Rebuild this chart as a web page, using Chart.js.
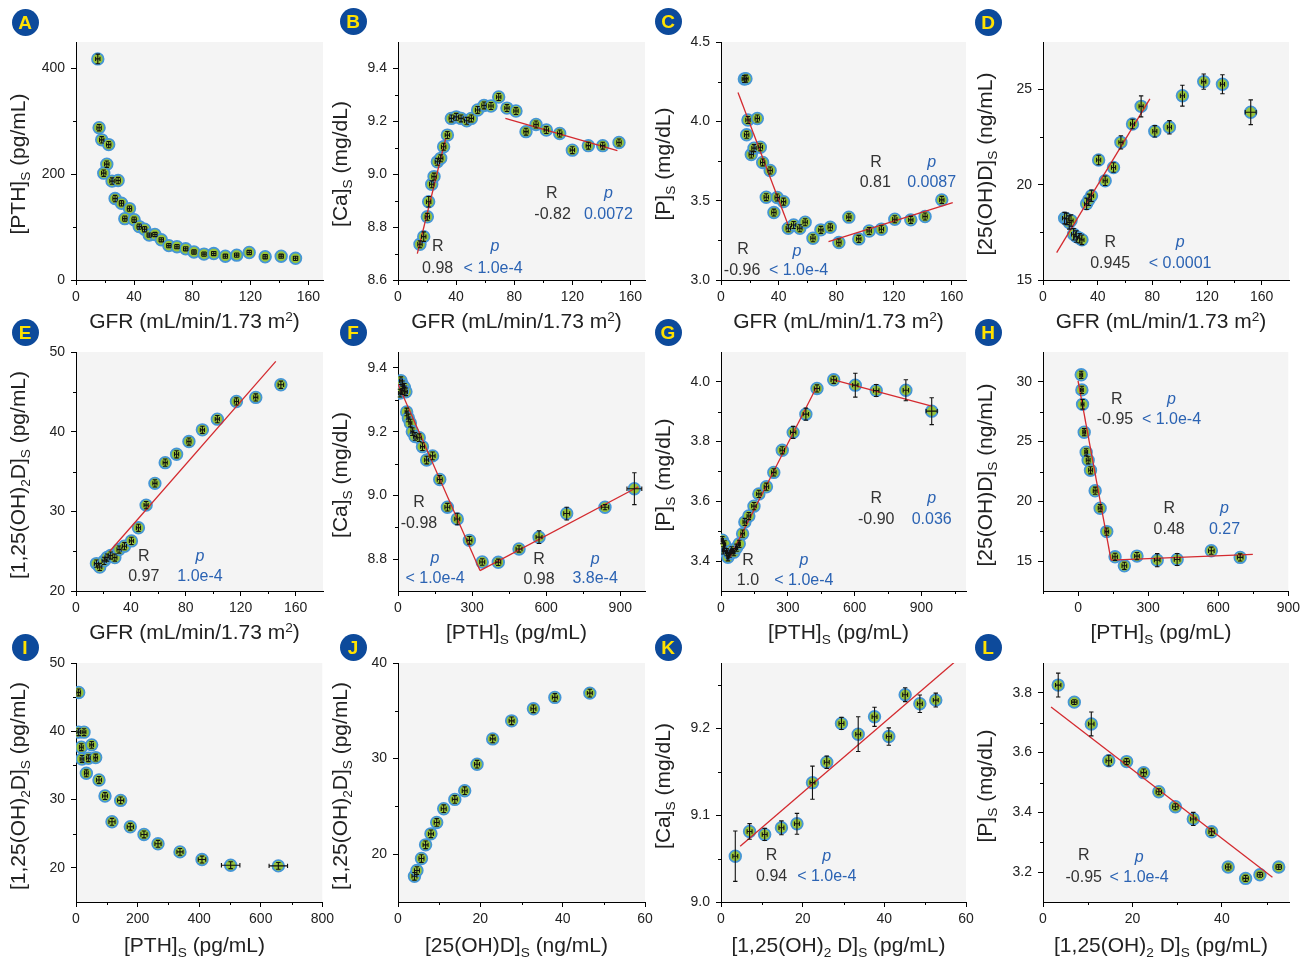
<!DOCTYPE html>
<html><head><meta charset="utf-8">
<script src="https://cdn.jsdelivr.net/npm/chart.js@4.4.1/dist/chart.umd.min.js"></script>
<style>
html,body{margin:0;padding:0;background:#fff;}
#wrap{position:relative;width:1310px;height:962px;overflow:hidden;font-family:"Liberation Sans",Arial,sans-serif;color:#222;}
canvas{position:absolute;}
.badge{position:absolute;width:27px;height:27px;border-radius:50%;background:#0d4a9b;color:#ffe100;font-weight:bold;font-size:19px;line-height:27px;text-align:center;}
.xt,.yt{position:absolute;font-size:21px;line-height:24px;height:24px;text-align:center;white-space:nowrap;color:#222;}
.yt{transform:rotate(-90deg);}
sub,sup{font-size:0.65em;line-height:0;position:relative;vertical-align:baseline;}
sub{top:0.35em;} sup{top:-0.55em;}
</style></head><body><div id="wrap"></div>
<script>
// ---------- tick labels ----------
const ticksGFR=[0,40,80,120,160], minorGFR=[20,60,100,140];
const ticksPTHa=[0,300,600,900], minorPTHa=[150,450,750], minorPTHg=[150,450,750,1050], minorPTHh=[-150,150,450,750];
const ticksPTHi=[0,200,400,600,800], minorPTHi=[100,300,500,700];
const ticks60=[0,20,40,60], minor60=[10,30,50], ticks55=[0,20,40], minor55=[10,30,50];
const yTicksA=[0,200,400], yMinorA=[100,300];
const yTicksB=[8.6,8.8,9.0,9.2,9.4], yMinorB=[8.7,8.9,9.1,9.3];
const yTicksC=[3.0,3.5,4.0,4.5], yMinorC=[3.25,3.75,4.25];
const yTicksD=[15,20,25], yMinorD=[17.5,22.5];
const yTicksE=[20,30,40,50], yMinorE=[25,35,45];
const yTicksF=[8.8,9.0,9.2,9.4], yMinorF=[8.9,9.1,9.3];
const yTicksG=[3.4,3.6,3.8,4.0], yMinorG=[3.5,3.7,3.9];
const yTicksH=[15,20,25,30], yMinorH=[17.5,22.5,27.5];
const yTicksI=[20,30,40,50], yMinorI=[25,35,45];
const yTicksJ=[20,30,40], yMinorJ=[25,35];
const yTicksK=[9.0,9.1,9.2], yMinorK=[9.05,9.15,9.25];
const yTicksL=[3.2,3.4,3.6,3.8], yMinorL=[3.3,3.5,3.7];

// ---------- series ----------
const gfrA=[15.0,15.9,17.7,22.5,21.2,19.1,24.8,29.0,26.9,31.3,36.8,33.6,40.0,43.5,47.2,50.4,54.3,58.7,63.9,69.5,75.5,81.2,88.1,94.8,102.8,110.6,119.2,130.2,141.2,151.1];
const pthA=[418,288,265,256,219,202,187,188,154,145,135,116,114,101,96,85,86,76,65,63,59,53,49,50,45,47,52,44,45,41];
const gfrAErr=[1.5,1.5,1.5,1.5,1.5,1.5,1.5,1.5,1.5,1.5,1.5,1.5,1.5,1.5,1.5,1.5,1.5,1.5,1.5,1.5,1.5,1.5,1.5,1.5,1.5,1.5,1.5,1.5,1.5,1.5];
const pthAErr=[9,6,6,6,6,6,6,6,6,5,5,5,5,5,5,4,4,4,4,4,4,4,4,4,4,4,4,4,4,4];

const gfrB=[15.1,17.7,20.2,21.1,23.2,24.8,27.1,29.4,31.4,34.0,36.7,40.1,43.4,47.3,50.5,54.8,59.2,64.0,69.3,75.0,81.2,88.1,95.0,102.1,111.3,120.0,131.0,140.9,152.1];
const caB=[8.735,8.764,8.839,8.896,8.962,8.991,9.047,9.060,9.104,9.148,9.211,9.217,9.211,9.202,9.211,9.243,9.260,9.258,9.292,9.250,9.239,9.161,9.188,9.167,9.154,9.091,9.108,9.108,9.120];
const gfrBErr=[1.5,1.5,1.5,1.5,1.5,1.5,1.5,1.5,1.5,1.5,1.5,1.5,1.5,1.5,1.5,1.5,1.5,1.5,1.5,1.5,1.5,1.5,1.5,1.5,1.5,1.5,1.5,1.5,1.5];
const caBErr=[0.013,0.018,0.013,0.02,0.013,0.013,0.013,0.013,0.013,0.013,0.013,0.013,0.013,0.013,0.013,0.013,0.013,0.013,0.013,0.013,0.013,0.013,0.013,0.013,0.013,0.013,0.013,0.013,0.013];
const fitB=[[13.3,8.70,32.8,9.135],[73.9,9.211,151,9.089]];

const gfrC=[16.2,17.3,18.7,25.2,17.8,21.0,22.9,27.3,28.9,34.1,31.4,39.0,43.4,36.7,46.7,50.4,54.7,58.4,63.8,69.3,75.8,81.8,88.7,95.6,102.8,111.3,120.6,131.7,141.6,153.2];
const pC=[4.267,4.269,4.008,4.018,3.915,3.791,3.831,3.837,3.741,3.690,3.522,3.520,3.494,3.425,3.326,3.347,3.326,3.364,3.263,3.316,3.332,3.236,3.396,3.259,3.309,3.320,3.383,3.379,3.40,3.505];
const gfrCErr=[1.5,1.5,1.5,1.5,1.5,1.5,1.5,1.5,1.5,1.5,1.5,1.5,1.5,1.5,1.5,1.5,1.5,1.5,1.5,1.5,1.5,1.5,1.5,1.5,1.5,1.5,1.5,1.5,1.5,1.5];
const pCErr=[0.022,0.022,0.022,0.022,0.022,0.022,0.022,0.022,0.022,0.022,0.022,0.022,0.022,0.022,0.022,0.022,0.022,0.022,0.022,0.022,0.022,0.022,0.022,0.022,0.022,0.022,0.022,0.022,0.022,0.022];
const fitC=[[11.8,4.182,46.4,3.351],[74.6,3.242,160.8,3.488]];

const gfrD=[15.8,17.3,19.2,20.5,22.4,24.4,26.8,28.5,31.9,33.6,35.5,40.7,45.5,51.6,57.0,65.5,71.8,81.8,92.5,102.0,117.6,131.3,152.0];
const vdD=[18.25,18.21,18.02,18.12,17.40,17.28,17.19,17.11,19.00,19.21,19.42,21.30,20.21,20.91,22.23,23.19,24.12,22.81,23.02,24.68,25.42,25.28,23.81];
const gfrDErr=[1.5,1.5,1.5,1.5,1.5,1.5,1.5,1.5,1.5,1.5,1.5,1.5,1.5,1.5,1.5,1.5,1.5,1.5,1.5,1.5,1.5,1.5,4];
const vdDErr=[0.3,0.3,0.35,0.3,0.3,0.3,0.25,0.25,0.3,0.3,0.3,0.25,0.25,0.25,0.35,0.25,0.55,0.3,0.35,0.55,0.4,0.5,0.65];
const fitD=[[10.0,16.44,78.2,24.51]];

const gfrE=[14.9,17.3,20.5,22.7,25.3,28.3,31.4,35.3,40.4,45.5,51.1,57.5,65.0,73.3,82.3,92.1,103.0,116.9,131.0,149.3];
const vdE=[23.44,23.02,23.78,24.20,24.45,24.20,25.20,25.62,26.29,27.93,30.78,33.51,36.11,37.16,38.76,40.23,41.57,43.79,44.30,45.89];
const gfrEErr=[1.5,1.5,1.5,1.5,1.5,1.5,1.5,1.5,1.5,1.5,1.5,1.5,1.5,1.5,1.5,1.5,1.5,1.5,1.5,2];
const vdEErr=[0.45,0.45,0.45,0.45,0.45,0.45,0.45,0.45,0.45,0.45,0.45,0.45,0.45,0.45,0.45,0.45,0.45,0.45,0.45,0.45];
const fitE=[[24.6,24.99,145.6,48.83]];

const pthF=[12,18,8,26,32,19,35,42,50,58,69,86,99,116,140,169,200,240,289,341,406,490,571,683,838,957];
const caF=[9.360,9.347,9.321,9.339,9.325,9.329,9.262,9.243,9.227,9.200,9.185,9.181,9.153,9.111,9.124,9.050,8.963,8.926,8.859,8.791,8.790,8.832,8.869,8.943,8.963,9.021];
const pthFErr=[6,6,6,6,6,6,6,6,6,6,6,8,8,8,10,10,10,10,10,10,10,12,12,12,15,30];
const caFErr=[0.012,0.012,0.012,0.012,0.012,0.012,0.012,0.012,0.012,0.012,0.012,0.012,0.012,0.012,0.012,0.012,0.012,0.018,0.012,0.01,0.01,0.01,0.02,0.02,0.008,0.05];
const fitF=[[0,9.349,332,8.764],[332,8.764,973,9.027]];

const pthG=[6,10,16,25,31,39,48,58,70,82,97,107,125,148,170,204,237,275,324,381,431,506,603,697,830,946];
const pG=[3.470,3.436,3.456,3.430,3.413,3.425,3.436,3.430,3.445,3.458,3.492,3.531,3.551,3.584,3.625,3.649,3.697,3.771,3.831,3.892,3.978,4.007,3.989,3.971,3.972,3.902];
const pthGErr=[5,5,5,5,5,5,5,5,5,5,8,8,8,10,10,10,10,10,12,12,12,12,12,12,12,25];
const pGErr=[0.012,0.012,0.012,0.012,0.012,0.012,0.012,0.012,0.012,0.012,0.012,0.012,0.012,0.012,0.012,0.012,0.012,0.012,0.02,0.02,0.012,0.012,0.04,0.02,0.035,0.045];
const fitG=[[40,3.413,428,3.981],[506,4.007,946,3.919]];

const pthH=[13.6,16.4,19.3,26.3,34.8,43.3,53.3,73.2,94.5,122.9,158.4,198.2,252.2,338.8,424.1,570.4,694.0];
const vdH=[30.59,29.33,28.12,25.79,24.11,23.44,22.60,20.89,19.43,17.47,15.36,14.61,15.42,15.08,15.14,15.87,15.31];
const pthHErr=[6,6,6,6,6,8,8,8,8,8,10,10,10,12,12,12,12];
const vdHErr=[0.3,0.3,0.4,0.3,0.3,0.3,0.3,0.3,0.3,0.3,0.3,0.3,0.3,0.55,0.5,0.3,0.3];
const fitH=[[0,30.08,141.3,15.08],[141.3,15.08,748,15.56]];

const pthI=[8.7,8.7,26,17.3,50.9,19.5,40.1,63.9,33.6,74.7,94.2,145,116.9,176.4,220.8,266.3,337.7,409.2,502.3,657.1];
const dI=[45.69,39.87,39.87,37.67,38.01,35.95,36.05,36.15,33.85,32.87,30.52,29.88,26.75,26.02,24.89,23.52,22.34,21.22,20.39,20.29];
const pthIErr=[6,6,6,6,6,6,6,6,6,8,8,10,10,10,10,10,10,12,30,30];
const dIErr=[0.5,0.5,0.5,0.5,0.5,0.5,0.5,0.5,0.5,0.5,0.5,0.5,0.5,0.5,0.5,0.5,0.5,0.5,0.5,0.5];

const vdJ=[4.0,4.6,5.7,6.7,8.0,9.4,11.1,13.8,16.2,19.2,23.0,27.6,32.9,38.1,46.6];
const dJ=[17.69,18.29,19.55,20.98,22.13,23.32,24.76,25.73,26.64,29.41,32.06,33.95,35.21,36.40,36.85];
const vdJErr=[0.6,0.6,0.6,0.6,0.6,0.6,0.6,0.6,0.6,0.6,0.6,0.6,0.6,0.6,0.6];
const dJErr=[0.4,0.4,0.4,0.4,0.4,0.4,0.4,0.4,0.4,0.4,0.4,0.4,0.4,0.4,0.4];

const dK=[3.5,7.0,10.7,14.8,18.6,22.4,25.9,29.5,33.6,37.6,41.1,45.1,48.7,52.6];
const caK=[9.0527,9.0812,9.0777,9.0854,9.0900,9.1373,9.1608,9.2054,9.1931,9.2131,9.1904,9.2385,9.2281,9.2323];
const dKErr=[0.6,0.6,0.6,0.6,0.6,0.6,0.6,0.6,0.6,0.6,0.6,0.6,0.6,0.6];
const caKErr=[0.029,0.009,0.007,0.008,0.012,0.019,0.007,0.007,0.02,0.011,0.01,0.008,0.01,0.008];
const fitK=[[4.7,9.0642,57.6,9.2777]];

const dL=[3.4,7.0,10.8,14.7,18.7,22.5,25.9,29.6,33.6,37.7,41.4,45.3,48.5,52.7];
const pL=[3.826,3.769,3.696,3.573,3.570,3.533,3.469,3.419,3.378,3.335,3.217,3.179,3.191,3.217];
const dLErr=[0.6,0.6,0.6,0.6,0.6,0.6,0.6,0.6,0.6,0.6,0.6,0.6,0.6,0.6];
const pLErr=[0.04,0.008,0.04,0.018,0.01,0.012,0.01,0.01,0.022,0.012,0.01,0.01,0.008,0.008];
const fitL=[[1.8,3.753,51.3,3.183]];

// ---------- statistics annotations: [text, x, y, kind] ----------
const noteB=[['R',105.8,8.928,'k'],['-0.82',106.4,8.846,'k'],['p',144.8,8.928,'p'],['0.0072',144.8,8.846,'b'],
             ['R',27.3,8.726,'k'],['0.98',27.3,8.644,'k'],['p',66.8,8.726,'p'],['< 1.0e-4',65.5,8.644,'b']];
const noteC=[['R',107.6,3.743,'k'],['0.81',107.0,3.614,'k'],['p',146.2,3.743,'p'],['0.0087',146.2,3.614,'b'],
             ['R',15.2,3.189,'k'],['-0.96',14.6,3.059,'k'],['p',52.7,3.179,'p'],['< 1.0e-4',53.8,3.059,'b']];
const noteD=[['R',49.2,16.96,'k'],['0.945',49.2,15.88,'k'],['p',100.3,16.96,'p'],['< 0.0001',100.3,15.88,'b']];
const noteE=[['R',49.4,24.28,'k'],['0.97',49.4,21.76,'k'],['p',90.4,24.28,'p'],['1.0e-4',90.4,21.76,'b']];
const noteF=[['R',85,8.977,'k'],['-0.98',85,8.911,'k'],['p',150,8.803,'p'],['< 1.0e-4',150,8.740,'b'],
             ['R',571,8.80,'k'],['0.98',571,8.735,'k'],['p',798,8.80,'p'],['3.8e-4',798,8.74,'b']];
const noteG=[['R',121,3.402,'k'],['1.0',121,3.335,'k'],['p',372,3.402,'p'],['< 1.0e-4',372,3.335,'b'],
             ['R',697,3.610,'k'],['-0.90',697,3.540,'k'],['p',946,3.610,'p'],['0.036',946,3.540,'b']];
const noteH=[['R',165.4,28.54,'k'],['-0.95',158.3,26.86,'k'],['p',399.9,28.54,'p'],['< 1.0e-4',399.9,26.86,'b'],
             ['R',390,19.43,'k'],['0.48',390,17.66,'k'],['p',627,19.43,'p'],['0.27',627,17.66,'b']];
const noteK=[['R',12.4,9.053,'k'],['0.94',12.4,9.029,'k'],['p',25.9,9.052,'p'],['< 1.0e-4',25.9,9.029,'b']];
const noteL=[['R',9.1,3.254,'k'],['-0.95',9.1,3.183,'k'],['p',21.5,3.250,'p'],['< 1.0e-4',21.5,3.183,'b']];

// ---------- axis titles ----------
const T_GFR='GFR (mL/min/1.73 m<sup>2</sup>)';
const T_PTH='[PTH]<sub>S</sub> (pg/mL)';
const T_CA='[Ca]<sub>S</sub> (mg/dL)';
const T_P='[P]<sub>S</sub> (mg/dL)';
const T_25='[25(OH)D]<sub>S</sub> (ng/mL)';
const T_125='[1,25(OH)<sub>2</sub>D]<sub>S</sub> (pg/mL)';
const T_125b='[1,25(OH)<sub>2</sub> D]<sub>S</sub> (pg/mL)';

const panels=[
 {id:'A',box:[76,42,323,280],badge:[25,22],x:{min:0,max:170,major:ticksGFR,minor:minorGFR,dec:0},y:{min:0,max:450,major:yTicksA,minor:yMinorA,dec:0},xs:gfrA,ys:pthA,xe:gfrAErr,ye:pthAErr,fits:[],notes:[],xt:T_GFR,yt:T_PTH},
 {id:'B',box:[398,42,645,280],badge:[353,21],x:{min:0,max:170,major:ticksGFR,minor:minorGFR,dec:0},y:{min:8.6,max:9.5,major:yTicksB,minor:yMinorB,dec:1},xs:gfrB,ys:caB,xe:gfrBErr,ye:caBErr,fits:fitB,notes:noteB,xt:T_GFR,yt:T_CA},
 {id:'C',box:[721,42,966,280],badge:[668,21],x:{min:0,max:170,major:ticksGFR,minor:minorGFR,dec:0},y:{min:3.0,max:4.5,major:yTicksC,minor:yMinorC,dec:1},xs:gfrC,ys:pC,xe:gfrCErr,ye:pCErr,fits:fitC,notes:noteC,xt:T_GFR,yt:T_P},
 {id:'D',box:[1043,42,1289,280],badge:[988,22],x:{min:0,max:180,major:ticksGFR,minor:minorGFR,dec:0},y:{min:15,max:27.5,major:yTicksD,minor:yMinorD,dec:0},xs:gfrD,ys:vdD,xe:gfrDErr,ye:vdDErr,fits:fitD,notes:noteD,xt:T_GFR,yt:T_25},
 {id:'E',box:[76,352,323,591],badge:[25,332],x:{min:0,max:180,major:ticksGFR,minor:minorGFR,dec:0},y:{min:20,max:50,major:yTicksE,minor:yMinorE,dec:0},xs:gfrE,ys:vdE,xe:gfrEErr,ye:vdEErr,fits:fitE,notes:noteE,xt:T_GFR,yt:T_125},
 {id:'F',box:[398,352,645,591],badge:[353,332],x:{min:0,max:1000,major:ticksPTHa,minor:minorPTHa,dec:0},y:{min:8.7,max:9.45,major:yTicksF,minor:yMinorF,dec:1},xs:pthF,ys:caF,xe:pthFErr,ye:caFErr,fits:fitF,notes:noteF,xt:T_PTH,yt:T_CA},
 {id:'G',box:[721,352,966,591],badge:[668,332],x:{min:0,max:1100,major:ticksPTHa,minor:minorPTHg,dec:0},y:{min:3.3,max:4.1,major:yTicksG,minor:yMinorG,dec:1},xs:pthG,ys:pG,xe:pthGErr,ye:pGErr,fits:fitG,notes:noteG,xt:T_PTH,yt:T_P},
 {id:'H',box:[1043,352,1289,591],badge:[988,332],x:{min:-150,max:900,major:ticksPTHa,minor:minorPTHh,dec:0},y:{min:12.5,max:32.5,major:yTicksH,minor:yMinorH,dec:0},xs:pthH,ys:vdH,xe:pthHErr,ye:vdHErr,fits:fitH,notes:noteH,xt:T_PTH,yt:T_25},
 {id:'I',box:[76,663,323,902],badge:[25,647],x:{min:0,max:800,major:ticksPTHi,minor:minorPTHi,dec:0},y:{min:15,max:50,major:yTicksI,minor:yMinorI,dec:0},xs:pthI,ys:dI,xe:pthIErr,ye:dIErr,fits:[],notes:[],xt:T_PTH,yt:T_125},
 {id:'J',box:[398,663,645,902],badge:[353,647],x:{min:0,max:60,major:ticks60,minor:minor60,dec:0},y:{min:15,max:40,major:yTicksJ,minor:yMinorJ,dec:0},xs:vdJ,ys:dJ,xe:vdJErr,ye:dJErr,fits:[],notes:[],xt:T_25,yt:T_125},
 {id:'K',box:[721,663,966,902],badge:[668,647],x:{min:0,max:60,major:ticks60,minor:minor60,dec:0},y:{min:9.0,max:9.275,major:yTicksK,minor:yMinorK,dec:1},xs:dK,ys:caK,xe:dKErr,ye:caKErr,fits:fitK,notes:noteK,xt:T_125b,yt:T_CA},
 {id:'L',box:[1043,663,1289,902],badge:[988,647],x:{min:0,max:55,major:ticks55,minor:minor55,dec:0},y:{min:3.1,max:3.9,major:yTicksL,minor:yMinorL,dec:1},xs:dL,ys:pL,xe:dLErr,ye:pLErr,fits:fitL,notes:noteL,xt:T_125b,yt:T_P}
];

Chart.defaults.font.family='"Liberation Sans", Arial, sans-serif';
const wrap=document.getElementById('wrap');
const ML=75, MT=15, MR=15, MB=60;
const DARK='#333', BLUE='#2b63b3';

const deco={
  id:'deco',
  beforeDraw(chart){
    const a=chart.chartArea, c=chart.ctx;
    c.save(); c.fillStyle='#f4f4f4'; c.fillRect(a.left,a.top,a.right-a.left,a.bottom-a.top); c.restore();
  },
  afterDatasetsDraw(chart){
    const p=chart.options.plugins.deco.p, c=chart.ctx, xs=chart.scales.x, ys=chart.scales.y;
    c.save(); c.strokeStyle='#111'; c.lineWidth=1.1; const cap=2.2;
    c.beginPath();
    p.xs.forEach((x,i)=>{
      const y=p.ys[i], px=xs.getPixelForValue(x), py=ys.getPixelForValue(y);
      const ye=p.ye[i], xe=p.xe[i];
      if(ye){const y1=ys.getPixelForValue(y-ye), y2=ys.getPixelForValue(y+ye);
        c.moveTo(px,y1);c.lineTo(px,y2);c.moveTo(px-cap,y1);c.lineTo(px+cap,y1);c.moveTo(px-cap,y2);c.lineTo(px+cap,y2);}
      if(xe){const x1=xs.getPixelForValue(x-xe), x2=xs.getPixelForValue(x+xe);
        c.moveTo(x1,py);c.lineTo(x2,py);c.moveTo(x1,py-cap);c.lineTo(x1,py+cap);c.moveTo(x2,py-cap);c.lineTo(x2,py+cap);}
    });
    c.stroke(); c.restore();
  },
  afterDraw(chart){
    const p=chart.options.plugins.deco.p, c=chart.ctx, xs=chart.scales.x, ys=chart.scales.y, a=chart.chartArea;
    c.save(); c.strokeStyle='#000'; c.lineWidth=1; c.beginPath();
    p.x.minor.forEach(v=>{const px=Math.round(xs.getPixelForValue(v))+0.5; c.moveTo(px,a.bottom); c.lineTo(px,a.bottom+3);});
    p.y.minor.forEach(v=>{const py=Math.round(ys.getPixelForValue(v))+0.5; c.moveTo(a.left-3,py); c.lineTo(a.left,py);});
    c.stroke();
    c.textAlign='center'; c.textBaseline='middle';
    p.notes.forEach(n=>{
      c.font=(n[3]==='p'?'italic ':'')+'16px "Liberation Sans", Arial, sans-serif';
      c.fillStyle=(n[3]==='k')?DARK:BLUE;
      c.fillText(n[0], xs.getPixelForValue(n[1]), ys.getPixelForValue(n[2]));
    });
    c.restore();
  }
};

function axisOpts(ax,isX){
  return {type:'linear',min:ax.min,max:ax.max,
    afterBuildTicks:s=>{s.ticks=ax.major.map(v=>({value:v}));},
    afterFit:s=>{if(isX) s.height=MB; else s.width=ML;},
    ticks:{autoSkip:false,maxRotation:0,minRotation:0,padding:isX?4:6,color:'#222',font:{size:14},callback:v=>Number(v).toFixed(ax.dec)},
    grid:{drawOnChartArea:false,drawTicks:true,tickLength:5,color:'#000',lineWidth:1},
    border:{display:true,color:'#000',width:1}
  };
}

panels.forEach(p=>{
  const [L,T,R,B]=p.box;
  const w=R-L+ML+MR, h=B-T+MT+MB;
  const cv=document.createElement('canvas');
  cv.width=w; cv.height=h;
  cv.style.left=(L-ML)+'px'; cv.style.top=(T-MT)+'px'; cv.style.width=w+'px'; cv.style.height=h+'px';
  wrap.appendChild(cv);

  const datasets=[{type:'scatter',data:p.xs.map((x,i)=>({x:x,y:p.ys[i]})),pointRadius:5.8,pointBackgroundColor:'#97c43a',pointBorderColor:'#4596d6',pointBorderWidth:1.8,order:2}];
  p.fits.forEach(f=>datasets.push({type:'line',data:[{x:f[0],y:f[1]},{x:f[2],y:f[3]}],borderColor:'#d42a2f',borderWidth:1.3,pointRadius:0,fill:false,tension:0,order:1}));

  new Chart(cv,{type:'scatter',data:{datasets},
    options:{responsive:false,animation:false,devicePixelRatio:1,events:[],
      layout:{padding:{left:0,top:MT,right:MR,bottom:0}},
      plugins:{legend:{display:false},tooltip:{enabled:false},deco:{p:p}},
      scales:{x:axisOpts(p.x,true),y:axisOpts(p.y,false)}},
    plugins:[deco]});

  const bd=document.createElement('div'); bd.className='badge'; bd.textContent=p.id;
  bd.style.left=(p.badge[0]-13.5)+'px'; bd.style.top=(p.badge[1]-13.5)+'px'; wrap.appendChild(bd);

  const off=(T>600)?43:41;
  const xt=document.createElement('div'); xt.className='xt'; xt.innerHTML=p.xt;
  xt.style.left=(L-25)+'px'; xt.style.width=(R-L+40)+'px'; xt.style.top=(B+off-12)+'px'; wrap.appendChild(xt);

  const yt=document.createElement('div'); yt.className='yt'; yt.innerHTML=p.yt;
  yt.style.width='300px'; yt.style.left=(L-58-150)+'px'; yt.style.top=((T+B)/2+3-12)+'px'; wrap.appendChild(yt);
});
</script></body></html>
